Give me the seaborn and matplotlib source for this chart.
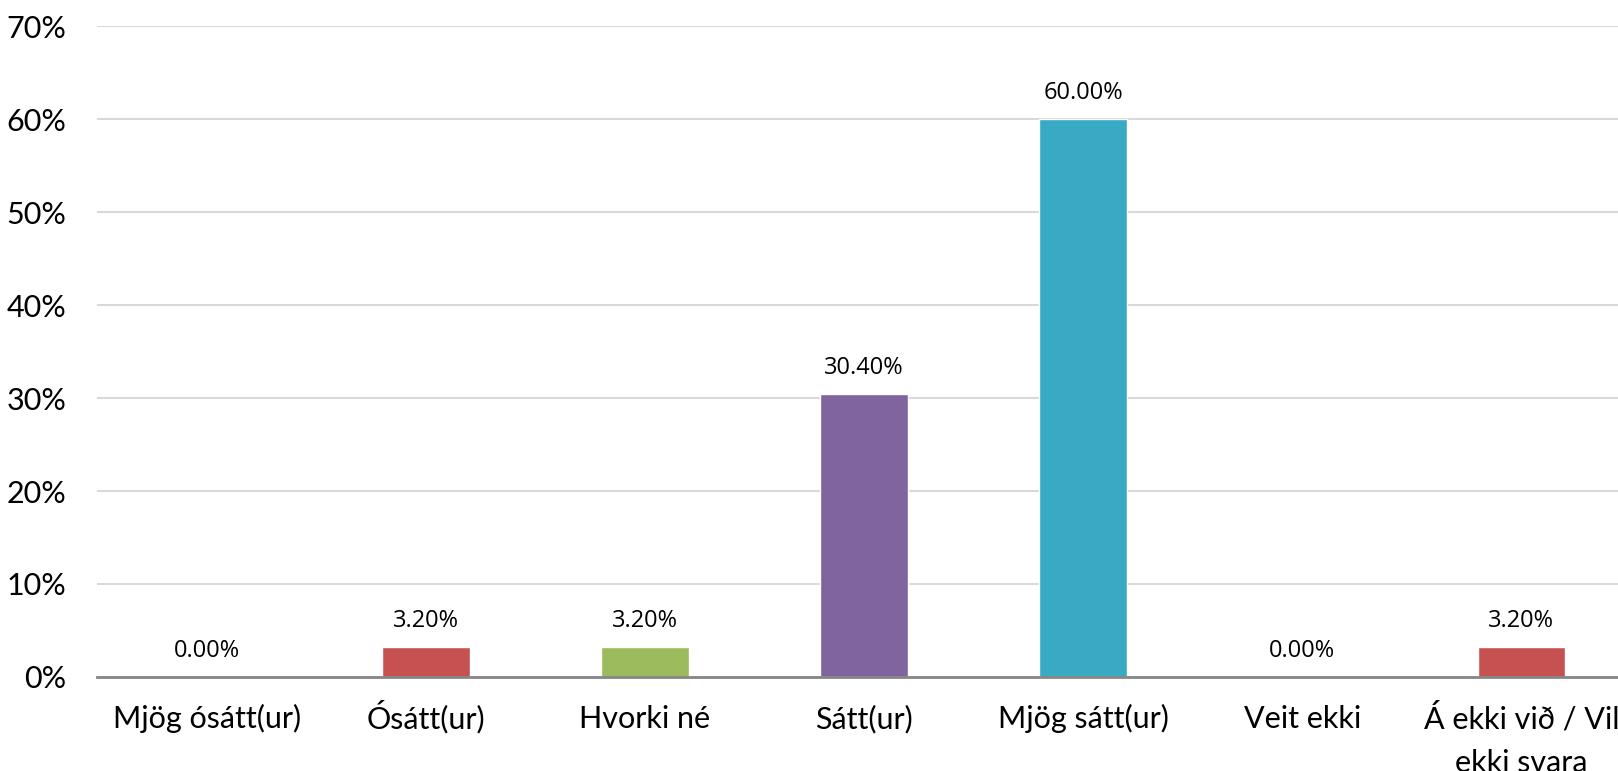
import matplotlib
matplotlib.use("Agg")
import matplotlib.pyplot as plt
import seaborn as sns
import pandas as pd
from matplotlib.ticker import FuncFormatter, MultipleLocator

categories = ["Mjög ósátt(ur)", "Ósátt(ur)", "Hvorki né", "Sátt(ur)", "Mjög sátt(ur)",
              "Veit ekki", "Á ekki við / Vil\nekki svara"]
values = [0.0, 3.2, 3.2, 30.4, 60.0, 0.0, 3.2]
colors = ["#4F81BD", "#C55251", "#9BBB5C", "#8064A0", "#38AAC3", "#F79646", "#C55251"]

sns.set_theme(style="white")
plt.rcParams['font.family'] = ['Lato', 'DejaVu Sans']

df = pd.DataFrame({"cat": categories, "val": values})

fig = plt.figure(figsize=(16.18, 7.71), dpi=100)
ax = fig.add_axes([0.06, 0.122, 0.948, 0.844])

sns.barplot(data=df, x="cat", y="val", hue="cat", palette=colors, legend=False,
            width=0.4, ax=ax, saturation=1)

ax.set_ylim(0, 70)
ax.set_xlim(-0.5, len(categories) - 0.5)
ax.yaxis.set_major_locator(MultipleLocator(10))
ax.yaxis.set_major_formatter(FuncFormatter(lambda v, p: f"{int(round(v))}%"))
ax.grid(axis="y", color="#D9D9D9", linewidth=1.5)
ax.set_axisbelow(True)
for s in ["top", "right", "left"]:
    ax.spines[s].set_visible(False)
ax.spines["bottom"].set_color("#868686")
ax.spines["bottom"].set_linewidth(2)
ax.set_xlabel("")
ax.set_ylabel("")
ax.tick_params(axis="y", labelsize=22, length=0, pad=22, colors="#000000")
ax.tick_params(axis="x", length=0, labelbottom=False)

# category labels, baseline-aligned like the original
for i, lab in enumerate(categories):
    for k, line in enumerate(lab.split("\n")):
        ax.annotate(line, xy=(i, 0), xycoords="data", xytext=(0, -37 - k * 31.5),
                    textcoords="offset points", ha="center", va="baseline",
                    fontsize=22, color="#000000", annotation_clip=False)

for i, v in enumerate(values):
    ax.annotate(f"{v:.2f}%", xy=(i, v), xytext=(0, 19), textcoords="offset points",
                ha="center", va="center", fontsize=17, family=["Open Sans", "DejaVu Sans"],
                color="#000000")

fig.savefig("out.png", dpi=100, facecolor="white")
